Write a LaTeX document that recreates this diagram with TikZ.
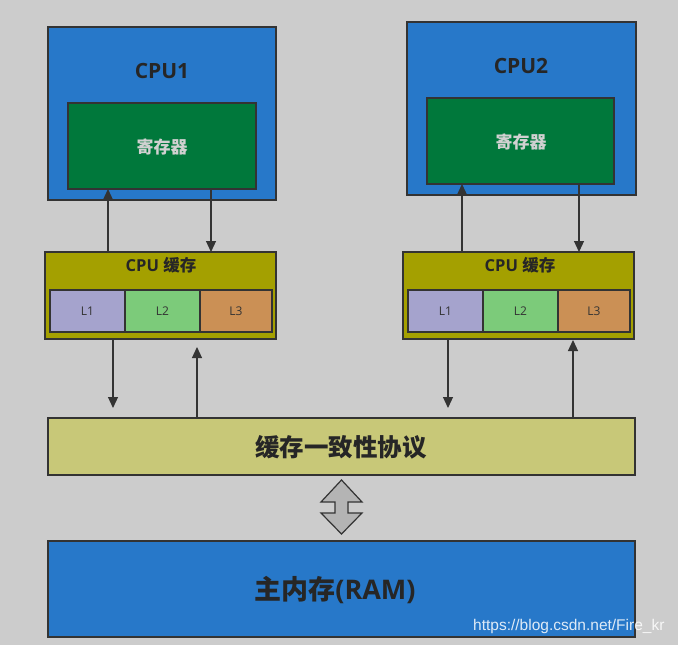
\documentclass[tikz,border=0pt]{standalone}
\usepackage{fontspec}
\setmainfont{Open Sans}
\newfontfamily\cjk{Noto Sans CJK SC}
\newfontfamily\wm{Liberation Sans}
\usetikzlibrary{arrows.meta}
\definecolor{bg}{HTML}{CCCCCC}
\definecolor{cpublue}{HTML}{2778C9}
\definecolor{reggreen}{HTML}{00783B}
\definecolor{olive}{HTML}{A4A000}
\definecolor{lone}{HTML}{A5A3CD}
\definecolor{ltwo}{HTML}{7CCB7A}
\definecolor{lthree}{HTML}{CB9055}
\definecolor{proto}{HTML}{C8C878}
\definecolor{edge}{HTML}{333333}
\definecolor{dark}{HTML}{262626}
\begin{document}
\begin{tikzpicture}[x=1pt,y=-1pt,
  box/.style={draw=edge,line width=1.2pt,anchor=north west,inner sep=0pt,outer sep=0pt},
  arr/.style={draw=edge,line width=1.2pt,-{Triangle[length=11pt,width=10pt]}},
  lvl/.style={box,minimum height=42pt},
  lvlt/.style={font=\fontsize{12}{12}\selectfont,text=edge},
  ttl/.style={font=\bfseries\fontsize{21}{21}\selectfont,text=dark},
  regt/.style={font=\cjk\bfseries\fontsize{17}{17}\selectfont,text=bg!90!white},
  cachet/.style={font=\bfseries\fontsize{16.5}{16.5}\selectfont,text=dark}
]
\useasboundingbox[fill=bg] (0,0) rectangle (678,645);
% CPU1
\node[box,fill=cpublue,minimum width=228pt,minimum height=173pt] (cpu1) at (48,27) {};
\node[ttl] (cpu1t) at (162,71) {CPU1};
\node[box,fill=reggreen,minimum width=188pt,minimum height=86pt] (reg1) at (68,103) {};
\node[regt] (reg1t) at (162,147) {寄存器};
\node[box,fill=olive,minimum width=231pt,minimum height=87pt] (cache1) at (45,252) {};
\node[cachet] (cache1t) at (161,265) {CPU {\cjk 缓存}};
\node[lvl,fill=lone,minimum width=75pt] (c1l1) at (50,290) {};
\node[lvl,fill=ltwo,minimum width=75pt] (c1l2) at (125,290) {};
\node[lvl,fill=lthree,minimum width=72pt] (c1l3) at (200,290) {};
\node[lvlt] at (c1l1.center) {L1};
\node[lvlt] at (c1l2.center) {L2};
\node[lvlt] at (c1l3.center) {L3};
% CPU2
\node[box,fill=cpublue,minimum width=229pt,minimum height=173pt] (cpu2) at (407,22) {};
\node[ttl] (cpu2t) at (521,66) {CPU2};
\node[box,fill=reggreen,minimum width=187pt,minimum height=86pt] (reg2) at (427,98) {};
\node[regt] (reg2t) at (521,142) {寄存器};
\node[box,fill=olive,minimum width=231pt,minimum height=87pt] (cache2) at (403,252) {};
\node[cachet] (cache2t) at (520,265) {CPU {\cjk 缓存}};
\node[lvl,fill=lone,minimum width=75pt] (c2l1) at (408,290) {};
\node[lvl,fill=ltwo,minimum width=75pt] (c2l2) at (483,290) {};
\node[lvl,fill=lthree,minimum width=72pt] (c2l3) at (558,290) {};
\node[lvlt] at (c2l1.center) {L1};
\node[lvlt] at (c2l2.center) {L2};
\node[lvlt] at (c2l3.center) {L3};
% protocol
\node[box,fill=proto,minimum width=587pt,minimum height=57pt] (proto) at (48,418) {};
\node[font=\cjk\bfseries\fontsize{24.5}{24.5}\selectfont,text=dark] (protot) at (341,447) {缓存一致性协议};
% main memory
\node[box,fill=cpublue,minimum width=587pt,minimum height=96pt] (ram) at (48,541) {};
\node[font=\bfseries\fontsize{27}{27}\selectfont,text=dark] (ramt) at (335,590) {{\cjk 主内存}(RAM)};
% connectors
\coordinate (u1) at (108,0); \coordinate (d1) at (211,0);
\coordinate (u2) at (462,0); \coordinate (d2) at (579,0);
\draw[arr] (cache1.north -| u1) -- (reg1.south -| u1);
\draw[arr] (reg1.south -| d1) -- (cache1.north -| d1);
\draw[arr] (cache2.north -| u2) -- (reg2.south -| u2);
\draw[arr] (reg2.south -| d2) -- (cache2.north -| d2);
\coordinate (e1) at (113,408); \coordinate (f1) at (197,347);
\coordinate (e2) at (448,408); \coordinate (f2) at (573,340);
\draw[arr] (cache1.south -| e1) -- (e1);
\draw[arr] (proto.north -| f1) -- (f1);
\draw[arr] (cache2.south -| e2) -- (e2);
\draw[arr] (proto.north -| f2) -- (f2);
% double arrow
\draw[draw=edge,line width=1.2pt,fill=bg!88!black,line join=miter]
  (341.5,480) -- (362,502) -- (348,502) -- (348,513) -- (362,513) -- (341.5,534)
  -- (321,513) -- (335,513) -- (335,502) -- (321,502) -- cycle;
% watermark
\node[font=\wm\fontsize{15.5}{15.5}\selectfont,text=white,opacity=0.85,anchor=east] (wmark) at (668,626) {https://blog.csdn.net/Fire\_kr};
\end{tikzpicture}
\end{document}
